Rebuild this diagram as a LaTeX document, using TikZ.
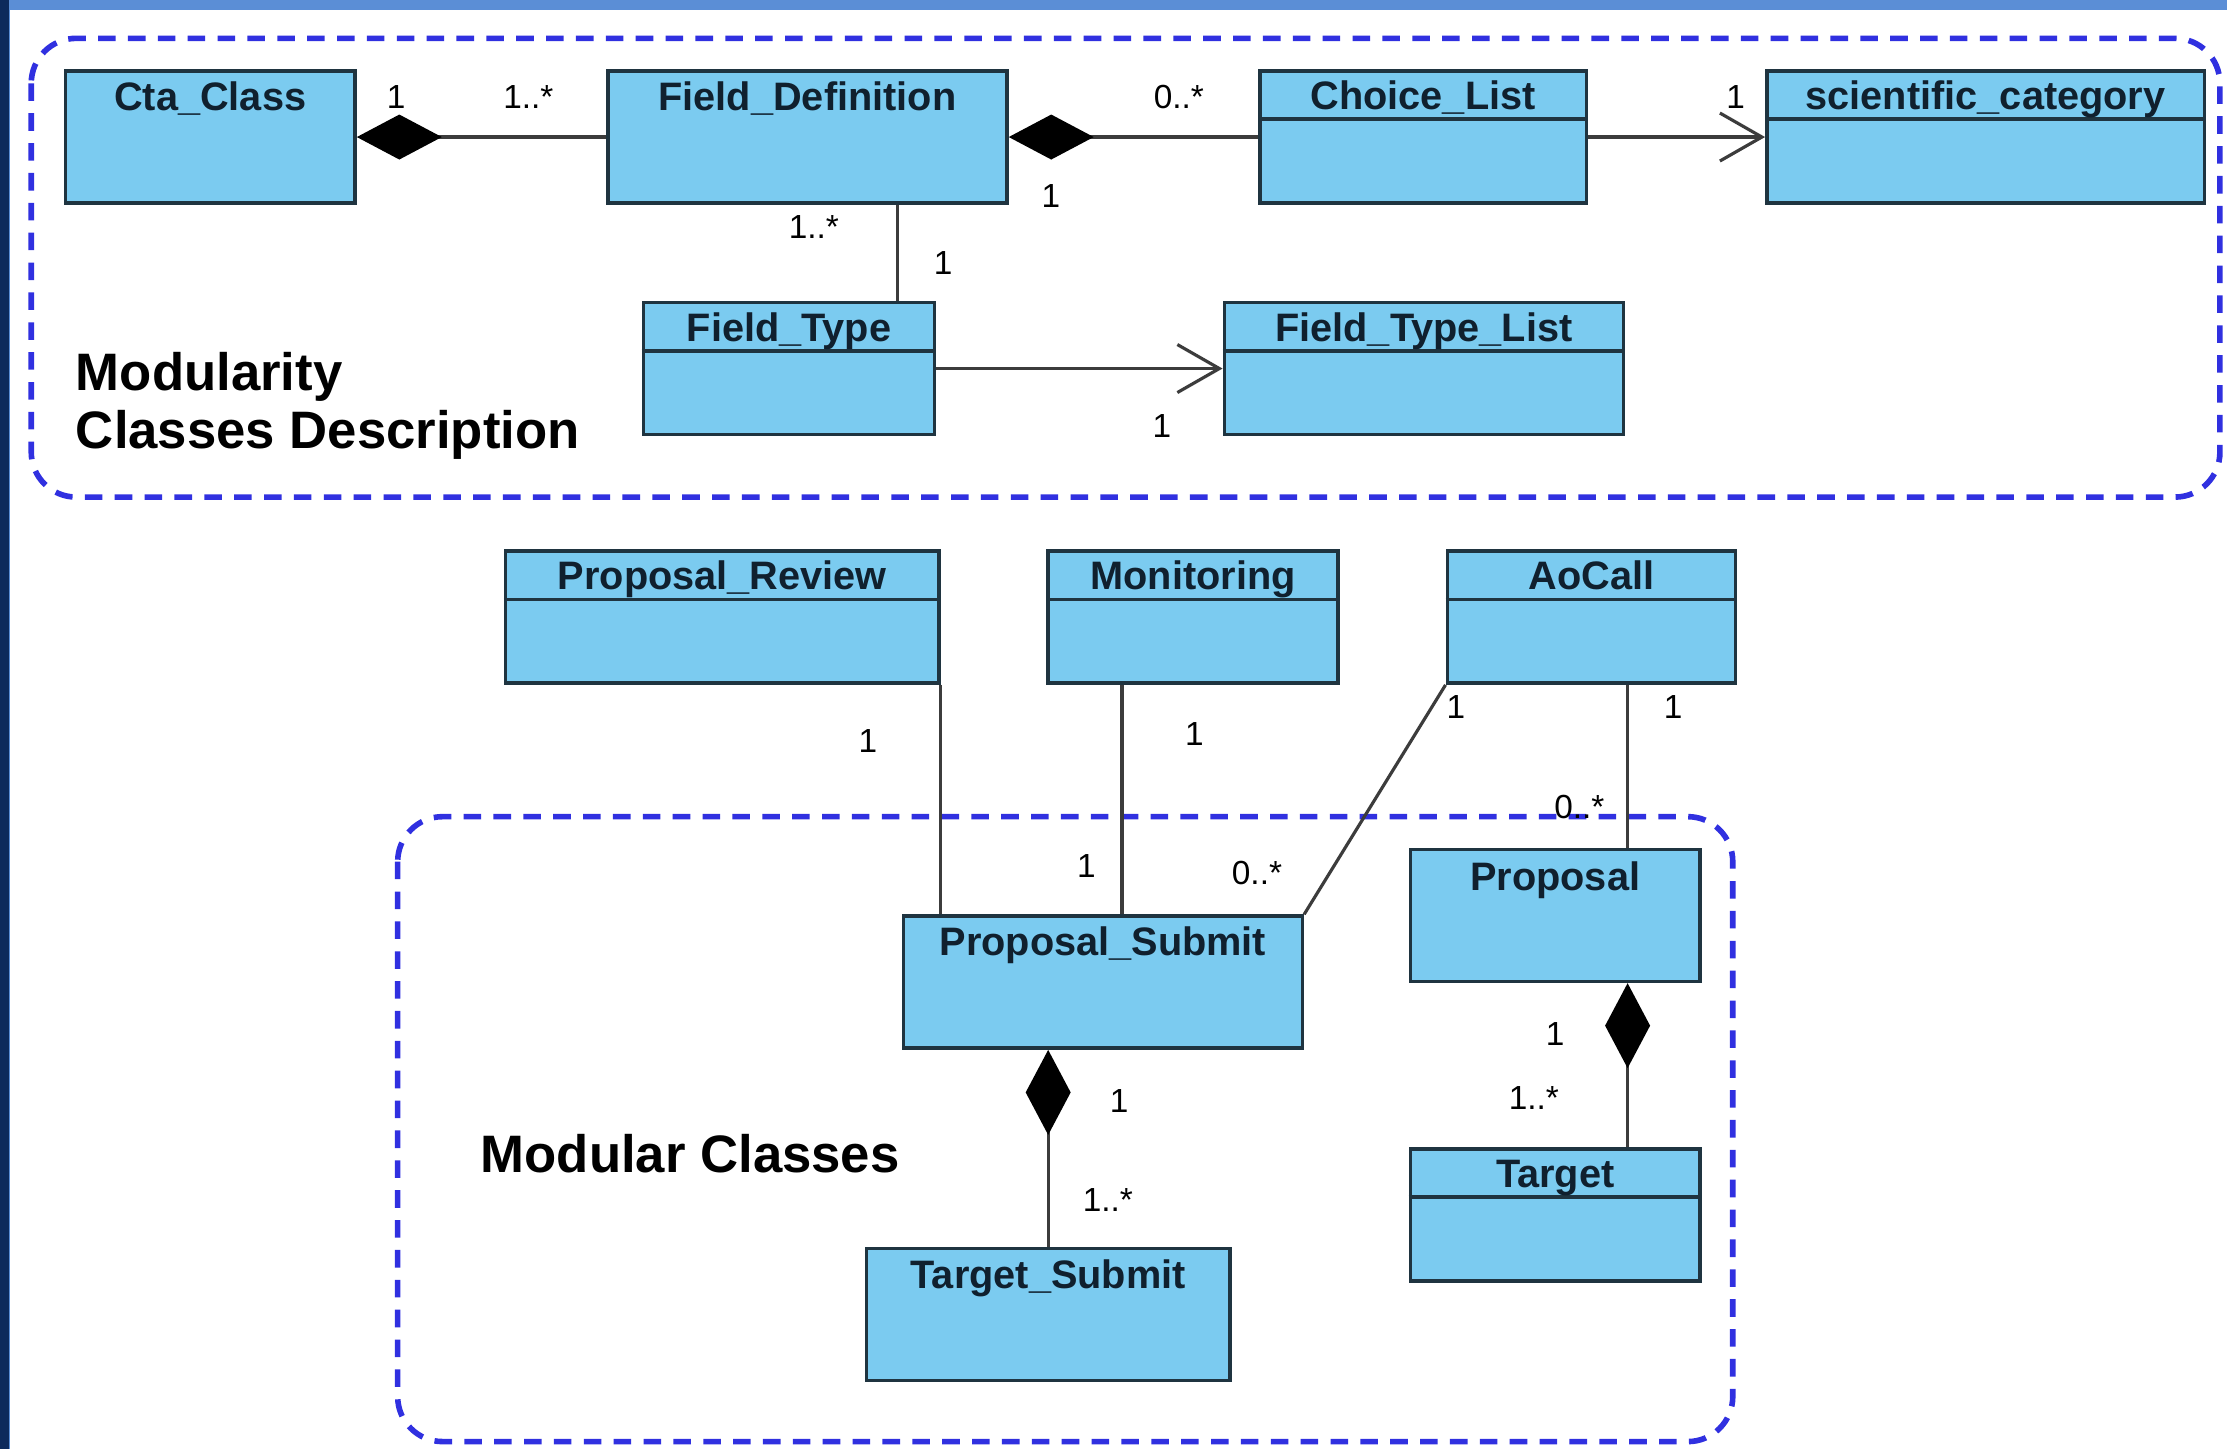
\documentclass[tikz,border=0pt]{standalone}
\usepackage{fontspec}
\setmainfont{Liberation Sans}
\usepackage{xcolor}
\usepackage{tikz}
\usetikzlibrary{arrows.meta}
\usetikzlibrary{positioning, fit}
\definecolor{umlblue}{HTML}{7BCBF0}
\definecolor{umlline}{HTML}{1F3440}
\definecolor{umltext}{HTML}{10202E}
\definecolor{umlgray}{HTML}{3C3C3C}
\definecolor{pkgblue}{HTML}{3030E0}
\definecolor{bandblue}{HTML}{5B8ED6}
\definecolor{stripnavy}{HTML}{0D2A5C}
\tikzset{
class box/.style = {rectangle, draw = umlline, fill = umlblue, line width = 1pt, inner sep = 0pt},
class name/.style = {font = \fontsize{11.3}{13}\selectfont\bfseries, text = umltext, inner sep = 0pt, text height = 0.72em, text depth = 0pt},
divider/.style = {draw = umlline, line width = 1pt},
mult/.style = {font = \fontsize{9.5}{10}\selectfont, text = black, inner sep = 0pt},
assoc/.style = {draw = umlgray, line width = 0.9pt},
comp/.style = {assoc, arrows = {Diamond[length = 8.5mm, width = 4.5mm, color = black]-}},
nav/.style = {assoc, arrows = {-Straight Barb[length = 4.2mm, width = 4.8mm]}},
package/.style = {draw = pkgblue, line width = 1.6pt, dash pattern = on 5pt off 3.5pt, rounded corners = 0.45cm},
group title/.style = {font = \fontsize{15}{16.5}\selectfont\bfseries, align = left, inner sep = 0pt}
}
\begin{document}
\begin{tikzpicture}[x = 0.014203cm, y = -0.014203cm]
      \useasboundingbox (0, 0) rectangle (1568, 1020);
      \fill[white] (0, 0) rectangle (1568, 1020);
      \fill[bandblue] (0, 0) rectangle (1568, 7);
      \fill[stripnavy] (0, 0) rectangle (6, 1020);
      \fill[bandblue] (6, 7) rectangle (7, 1020);

      \draw[package] (22, 27) rectangle (1563, 350);
      \draw[package] (280, 575) rectangle (1220, 1015);

      \node[class box, fit = {(46, 50) (250, 143)}] (cta) {};
      \node[class box, fit = {(428, 50) (709, 143)}] (fdef) {};
      \node[class box, fit = {(887, 50) (1117, 143)}] (choice) {};
      \node[class box, fit = {(1244, 50) (1552, 143)}] (scicat) {};
      \node[class box, fit = {(453, 213) (658, 306)}] (ftype) {};
      \node[class box, fit = {(862, 213) (1143, 306)}] (ftlist) {};
      \node[class box, fit = {(356, 388) (661, 481)}] (review) {};
      \node[class box, fit = {(738, 388) (942, 481)}] (monitor) {};
      \node[class box, fit = {(1019, 388) (1222, 481)}] (aocall) {};
      \node[class box, fit = {(636, 645) (917, 738)}] (submit) {};
      \node[class box, fit = {(993, 598) (1197, 691)}] (proposal) {};
      \node[class box, fit = {(993, 809) (1197, 902)}] (target) {};
      \node[class box, fit = {(610, 879) (866, 972)}] (tsubmit) {};

      \draw[divider] ([yshift = -0.5cm]choice.north west) -- ([yshift = -0.5cm]choice.north east);
      \draw[divider] ([yshift = -0.5cm]scicat.north west) -- ([yshift = -0.5cm]scicat.north east);
      \draw[divider] ([yshift = -0.5cm]ftype.north west) -- ([yshift = -0.5cm]ftype.north east);
      \draw[divider] ([yshift = -0.5cm]ftlist.north west) -- ([yshift = -0.5cm]ftlist.north east);
      \draw[divider] ([yshift = -0.5cm]review.north west) -- ([yshift = -0.5cm]review.north east);
      \draw[divider] ([yshift = -0.5cm]monitor.north west) -- ([yshift = -0.5cm]monitor.north east);
      \draw[divider] ([yshift = -0.5cm]aocall.north west) -- ([yshift = -0.5cm]aocall.north east);
      \draw[divider] ([yshift = -0.5cm]target.north west) -- ([yshift = -0.5cm]target.north east);

      \node[class name] (cta name) at ([yshift = -0.29cm]cta.north) {Cta\_Class};
      \node[class name] (fdef name) at ([yshift = -0.29cm]fdef.north) {Field\_Definition};
      \node[class name] (choice name) at ([yshift = -0.28cm]choice.north) {Choice\_List};
      \node[class name] (scicat name) at ([yshift = -0.28cm]scicat.north) {scientific\_category};
      \node[class name] (ftype name) at ([yshift = -0.28cm]ftype.north) {Field\_Type};
      \node[class name] (ftlist name) at ([yshift = -0.28cm]ftlist.north) {Field\_Type\_List};
      \node[class name] (review name) at ([yshift = -0.28cm]review.north) {Proposal\_Review};
      \node[class name] (monitor name) at ([yshift = -0.28cm]monitor.north) {Monitoring};
      \node[class name] (aocall name) at ([yshift = -0.28cm]aocall.north) {AoCall};
      \node[class name] (submit name) at ([yshift = -0.29cm]submit.north) {Proposal\_Submit};
      \node[class name] (proposal name) at ([yshift = -0.3cm]proposal.north) {Proposal};
      \node[class name] (target name) at ([yshift = -0.28cm]target.north) {Target};
      \node[class name] (tsubmit name) at ([yshift = -0.29cm]tsubmit.north) {Target\_Submit};

      \draw[comp] (cta) -- (fdef);
      \draw[comp] (fdef) -- (choice);
      \draw[nav] (choice) -- (scicat);
      \coordinate (fd link) at ([xshift = 1.087cm]ftype.north);
      \draw[assoc] (fd link) -- (fd link |- fdef.south);
      \draw[nav] (ftype) -- (ftlist);
      \draw[assoc] (review.south east) -- (review.south east |- submit.north);
      \coordinate (mon link) at ([xshift = -0.71cm]monitor.south);
      \draw[assoc] (mon link) -- (mon link |- submit.north);
      \draw[assoc] (aocall.south west) -- (submit.north east);
      \coordinate (ao link) at ([xshift = 0.362cm]aocall.south);
      \draw[assoc] (ao link) -- (ao link |- proposal.north);
      \draw[comp] (submit.south -| tsubmit.north) -- (tsubmit.north);
      \coordinate (prop link) at ([xshift = 0.724cm]proposal.south);
      \draw[comp] (prop link) -- (prop link |- target.north);

      \node[mult] (m cta) at (279, 68) {1};
      \node[mult] (m fdef a) at (372, 68) {1..*};
      \node[mult] (m fdef b) at (740, 138) {1};
      \node[mult] (m choice a) at (830, 68) {0..*};
      \node[mult] (m choice b) at (1222, 68) {1};
      \node[mult] (m fdef c) at (573, 160) {1..*};
      \node[mult] (m ftype a) at (664, 185) {1};
      \node[mult] (m ftype b) at (818, 300) {1};
      \node[mult] (m review) at (611, 522) {1};
      \node[mult] (m monitor a) at (841, 517) {1};
      \node[mult] (m monitor b) at (765, 610) {1};
      \node[mult] (m aocall a) at (1025, 498) {1};
      \node[mult] (m aocall b) at (885, 615) {0..*};
      \node[mult] (m aocall c) at (1178, 498) {1};
      \node[mult] (m aocall d) at (1112, 568) {0..*};
      \node[mult] (m submit a) at (788, 775) {1};
      \node[mult] (m submit b) at (780, 845) {1..*};
      \node[mult] (m proposal a) at (1095, 728) {1};
      \node[mult] (m proposal b) at (1080, 773) {1..*};

      \node[group title, anchor = west] (desc title) at (53, 286) {Modularity\\Classes Description};
      \node[group title, anchor = west] (modular title) at (338, 812) {Modular Classes};
    \end{tikzpicture}
\end{document}
